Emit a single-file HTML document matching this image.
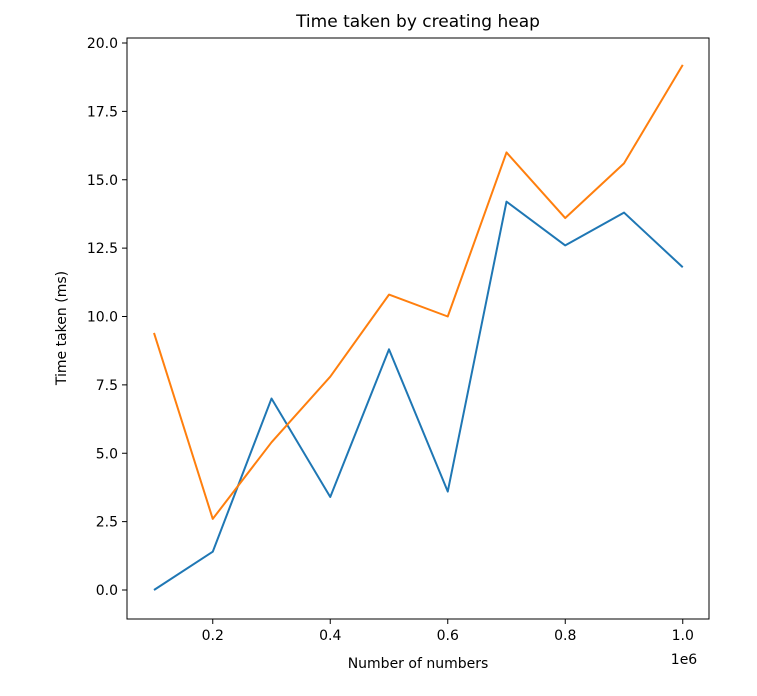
<!DOCTYPE html>
<html><head><meta charset="utf-8"><style>
body{margin:0;background:#fff;}
svg text{font-family:"DejaVu Sans","Liberation Sans",sans-serif;fill:#000;}
</style></head><body>
<svg id="chart" width="757" height="691" xmlns="http://www.w3.org/2000/svg">
<rect x="0" y="0" width="757" height="691" fill="#fff"/>
<text x="418" y="27" font-size="17" text-anchor="middle">Time taken by creating heap</text>
<g id="axes"></g>
<rect x="127" y="38" width="582" height="581" fill="none" stroke="#000" stroke-width="1"/>
<text x="418" y="668" font-size="14" text-anchor="middle">Number of numbers</text>
<text x="684" y="664" font-size="14" text-anchor="middle">1e6</text>
<text transform="translate(66,328) rotate(-90)" font-size="14" text-anchor="middle">Time taken (ms)</text>
</svg>
<script>
const categories=[0.1,0.2,0.3,0.4,0.5,0.6,0.7,0.8,0.9,1.0];
const seriesBlue=[0,1.4,7.0,3.4,8.8,3.6,14.2,12.6,13.8,11.8];
const seriesOrange=[9.4,2.6,5.4,7.8,10.8,10.0,16.0,13.6,15.6,19.2];
const xTicks=[0.2,0.4,0.6,0.8,1.0];
const xTickLabels=["0.2","0.4","0.6","0.8","1.0"];
const yTicks=[0,2.5,5,7.5,10,12.5,15,17.5,20];
const yTickLabels=["0.0","2.5","5.0","7.5","10.0","12.5","15.0","17.5","20.0"];

function xs(v){return 154+(v-0.1)*587.5;}
function ys(v){return 590-v*27.35;}
const NS="http://www.w3.org/2000/svg";
const g=document.getElementById('axes');
function mk(t,a){const e=document.createElementNS(NS,t);for(const k in a)e.setAttribute(k,a[k]);return e;}
xTicks.forEach((t,i)=>{
  const l=mk('line',{x1:xs(t),x2:xs(t),y1:619,y2:624,stroke:'#000'});
  
  
  g.appendChild(l);
  const tx=mk('text',{x:xs(t),y:640,'font-size':14,'text-anchor':'middle'});
  tx.textContent=xTickLabels[i];
  
  
  g.appendChild(tx);
});
yTicks.forEach((t,i)=>{
  const l=mk('line',{x1:122,x2:127,y1:ys(t),y2:ys(t),stroke:'#000'});
  
  
  g.appendChild(l);
  const tx=mk('text',{x:118,y:ys(t)+5,'font-size':14,'text-anchor':'end'});
  tx.textContent=yTickLabels[i];
  
  
  g.appendChild(tx);
});
function line(data,color,name){
  const p=mk('polyline',{points:data.map((v,i)=>xs(categories[i])+','+ys(v)).join(' '),fill:'none',stroke:color,'stroke-width':2,'stroke-linejoin':'round'});
  
  
  g.appendChild(p);
}
line(seriesBlue,'#1f77b4','series-blue-line');
line(seriesOrange,'#ff7f0e','series-orange-line');
</script>
</body></html>
